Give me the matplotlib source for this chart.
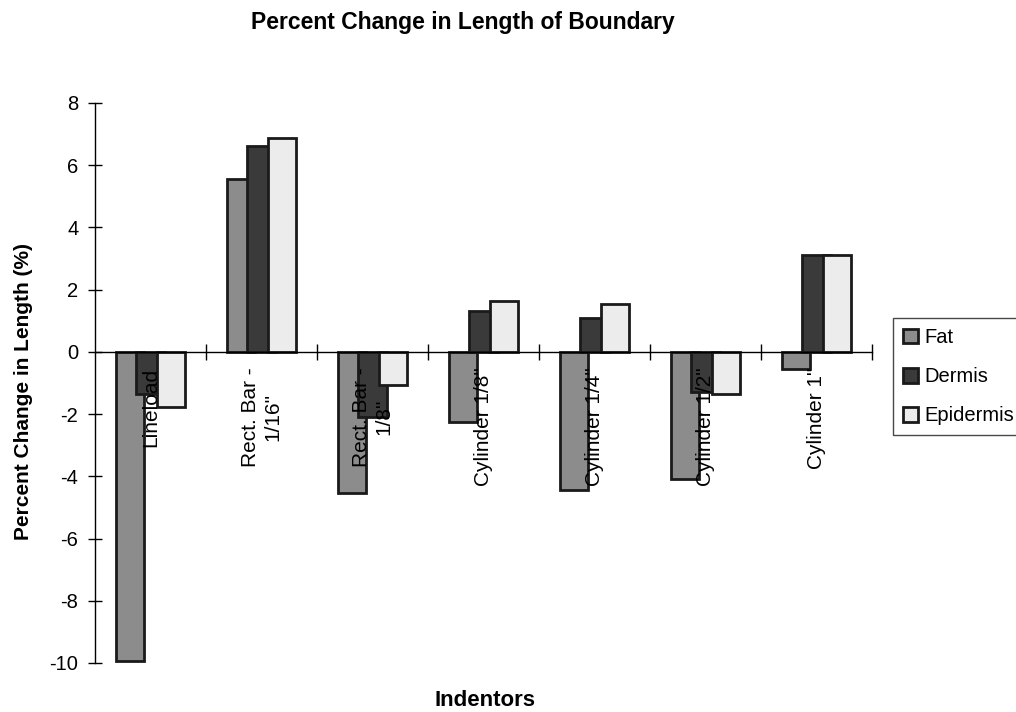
import numpy as np
import matplotlib.pyplot as plt

categories = ['Lineload', 'Rect. Bar -\n1/16"', 'Rect. Bar -\n1/8"', 'Cylinder 1/8"',
              'Cylinder 1/4"', 'Cylinder 1/2"', 'Cylinder 1"']
fat = [-9.95, 5.55, -4.55, -2.25, -4.45, -4.1, -0.55]
dermis = [-1.35, 6.62, -2.1, 1.32, 1.08, -1.28, 3.1]
epidermis = [-1.78, 6.88, -1.05, 1.64, 1.55, -1.35, 3.1]
series = ['Fat', 'Dermis', 'Epidermis']
colors = ['#8c8c8c', '#3a3a3a', '#ececec']

plt.rcParams['font.family'] = ['Liberation Sans', 'DejaVu Sans']
plt.rcParams['axes.unicode_minus'] = False

fig = plt.figure(figsize=(10.16, 7.12), dpi=100)
ax = fig.add_axes([95 / 1016, 1 - 663 / 712, (872 - 95) / 1016, (663 - 103) / 712])

x = np.arange(len(categories)) + 0.5
width = 0.26
offsets = [-0.185, 0.0, 0.185]
for vals, off, col, name in zip([fat, dermis, epidermis], offsets, colors, series):
    ax.bar(x + off, vals, width, color=col, edgecolor='#1a1a1a', linewidth=2,
           label=name, zorder=2)

ax.set_xlim(0, len(categories))
ax.set_ylim(-10, 8)
ax.set_yticks(np.arange(-10, 9, 2))

ax.spines['top'].set_visible(False)
ax.spines['right'].set_visible(False)
ax.spines['bottom'].set_position(('data', 0))
ax.spines['left'].set_linewidth(1)
ax.spines['bottom'].set_linewidth(1)
ax.set_xticks(np.arange(1, len(categories) + 1))
ax.set_xticklabels([])
ax.tick_params(axis='x', direction='inout', length=12, width=1)
ax.tick_params(axis='y', direction='inout', length=10, width=1, labelsize=14.5, pad=7)

for xi, lab in zip(x, categories):
    ax.text(xi, -0.5, lab, rotation=90, ha='center', va='top',
            multialignment='center', fontsize=15, zorder=3)

fig.text(24 / 1016, 1 - 392 / 712, 'Percent Change in Length (%)', rotation=90,
         ha='center', va='center', fontsize=15, fontweight='bold')
fig.text(485 / 1016, 1 - 700 / 712, 'Indentors', ha='center', va='center',
         fontsize=16, fontweight='bold')
fig.text(463 / 1016, 1 - 23 / 712, 'Percent Change in Length of Boundary', ha='center',
         va='center', fontsize=16.5, fontweight='bold')

leg = fig.legend(loc='upper left', bbox_to_anchor=(893 / 1016, 1 - 318 / 712),
                 fontsize=14.5, frameon=True, fancybox=False, handlelength=0.75,
                 handleheight=0.75, handletextpad=0.3, labelspacing=1.0,
                 borderpad=0.5, borderaxespad=0)
leg.get_frame().set_edgecolor('#1a1a1a')
leg.get_frame().set_linewidth(1)

fig.savefig('out.png', dpi=100)
